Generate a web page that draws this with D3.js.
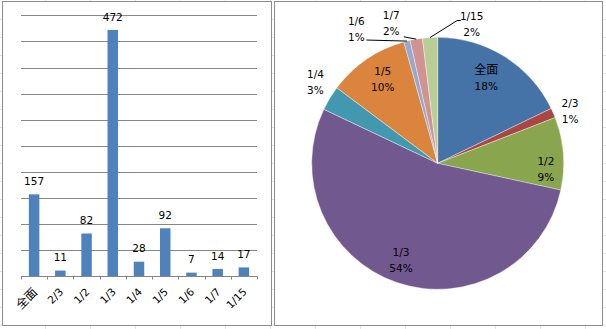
<!DOCTYPE html>
<html><head><meta charset="utf-8">
<script src="https://cdn.jsdelivr.net/npm/d3@7"></script>
<style>html,body{margin:0;padding:0;background:#fff;}svg{display:block;}</style>
</head><body>
<svg id="c" width="606" height="329"></svg>
<script>
// ---- data ----
const categories = ["全面", "2/3", "1/2", "1/3", "1/4", "1/5", "1/6", "1/7", "1/15"];
const counts = [157, 11, 82, 472, 28, 92, 7, 14, 17];
const yTicks = [50, 100, 150, 200, 250, 300, 350, 400, 450, 500];
const pieColors = ["#4572A7", "#AA4643", "#89A54E", "#71588F", "#4198AF", "#DB843D", "#93A9CF", "#D19392", "#B9CD96"];
// label layout for pie (angle shift in degrees from slice mid, radius factor, leader)
const pieLabelLayout = {
  "全面": {da: -2.5, rf: 0.78},
  "2/3": {da: 1.9, rf: 1.13},
  "1/2": {da: 7.8, rf: 0.86},
  "1/3": {da: 2, rf: 0.82},
  "1/4": {da: 2.5, rf: 1.165},
  "1/5": {da: 1.3, rf: 0.80},
  "1/6": {da: -17.1, rf: 1.246, leader: [[10, 11]]},
  "1/7": {da: -8.6, rf: 1.167, leader: [[12.5, 13]]},
  "1/15": {da: 17.2, rf: 1.138, leader: [[-11, -3.5], [-14.5, -3.5]]}
};

const svg = d3.select("#c");
const FONT = "'DejaVu Sans', Verdana, sans-serif";
const CJK = "'Noto Sans CJK SC', sans-serif";

// ---- faint sheet grid background ----
const bg = svg.append("g");
for (let x = 45; x < 606; x += 45) bg.append("line").attr("x1", x + .5).attr("x2", x + .5).attr("y1", 0).attr("y2", 329).attr("stroke", "#e4e4e4");
for (let y = 19; y < 329; y += 18) bg.append("line").attr("x1", 0).attr("x2", 606).attr("y1", y + .5).attr("y2", y + .5).attr("stroke", "#e4e4e4");

// chart frames
svg.append("rect").attr("x", 2.5).attr("y", 1.5).attr("width", 269).attr("height", 324).attr("fill", "#fff").attr("stroke", "#8c8c8c");
svg.append("rect").attr("x", 274.5).attr("y", 1.5).attr("width", 328).attr("height", 324).attr("fill", "#fff").attr("stroke", "#8c8c8c");

// ---- bar chart ----
const x = d3.scaleBand().domain(categories).range([21, 257]).paddingInner(0.6).paddingOuter(0.3);
const y = d3.scaleLinear().domain([0, 500]).range([276.3, 15.3]);
const gb = svg.append("g");
gb.selectAll("line.grid").data(yTicks).join("line")
  .attr("x1", 21).attr("x2", 257)
  .attr("y1", d => Math.round(y(d)) + .5).attr("y2", d => Math.round(y(d)) + .5)
  .attr("stroke", "#868686");
gb.selectAll("rect.bar").data(counts).join("rect")
  .attr("x", (d, i) => x(categories[i])).attr("width", x.bandwidth())
  .attr("y", d => y(d)).attr("height", d => y(0) - y(d))
  .attr("fill", "#4F81BD");
// axis baseline + ticks
const by = Math.round(y(0)) + .5;
gb.append("line").attr("x1", 21).attr("x2", 257).attr("y1", by).attr("y2", by).attr("stroke", "#868686");
const step = x.step();
d3.range(categories.length + 1).forEach(k => {
  const tx = Math.round(21 + k * step) + .5;
  gb.append("line").attr("x1", tx).attr("x2", tx).attr("y1", by).attr("y2", by + 3).attr("stroke", "#868686");
});
// value labels
gb.selectAll("text.val").data(counts).join("text")
  .attr("x", (d, i) => x(categories[i]) + x.bandwidth() / 2)
  .attr("y", d => y(d) - 13).attr("dy", "0.35em")
  .attr("text-anchor", "middle").attr("font-family", FONT).attr("font-size", 10.5).attr("fill", "#000")
  .text(d => d);
// category labels rotated
categories.forEach(c => {
  const cx = x(c) + x.bandwidth() / 2;
  gb.append("text")
    .attr("transform", `translate(${cx + 1},${290}) rotate(-45)`)
    .attr("dy", "0.35em").attr("text-anchor", "end")
    .attr("font-family", /[^\x00-\x7f]/.test(c) ? CJK : FONT)
    .attr("font-size", /[^\x00-\x7f]/.test(c) ? 12 : 10.5).attr("fill", "#000")
    .text(c);
});

// ---- pie chart ----
const pc = [437.7, 163.3], R = 126;
const total = d3.sum(counts);
const pie = d3.pie().sort(null).value(d => d)(counts);
const arc = d3.arc().innerRadius(0).outerRadius(R);
const gp = svg.append("g").attr("transform", `translate(${pc[0]},${pc[1]})`);
gp.selectAll("path").data(pie).join("path")
  .attr("d", arc).attr("fill", (d, i) => pieColors[i])
  .attr("stroke", "#ffffff").attr("stroke-opacity", 0.55).attr("stroke-width", 0.7);

pie.forEach((d, i) => {
  const c = categories[i];
  const L = pieLabelLayout[c];
  const mid = (d.startAngle + d.endAngle) / 2;
  const a = mid + L.da * Math.PI / 180;
  const lx = Math.sin(a) * R * L.rf, ly = -Math.cos(a) * R * L.rf;
  const pct = Math.round(d.value / total * 100) + "%";
  if (L.leader) {
    const pts = L.leader.map(o => [lx + o[0], ly + o[1]]);
    pts.push([Math.sin(mid) * R, -Math.cos(mid) * R]);
    gp.append("path").attr("d", d3.line()(pts)).attr("fill", "none").attr("stroke", "#000").attr("stroke-width", 1);
  }
  const isCJK = /[^\x00-\x7f]/.test(c);
  gp.append("text").attr("x", lx).attr("y", ly - 8).attr("dy", "0.35em").attr("text-anchor", "middle")
    .attr("font-family", isCJK ? CJK : FONT).attr("font-size", isCJK ? 12 : 10.5).attr("fill", "#000").text(c);
  gp.append("text").attr("x", lx).attr("y", ly + 8).attr("dy", "0.35em").attr("text-anchor", "middle")
    .attr("font-family", FONT).attr("font-size", 10.5).attr("fill", "#000").text(pct);
});
</script>
</body></html>
